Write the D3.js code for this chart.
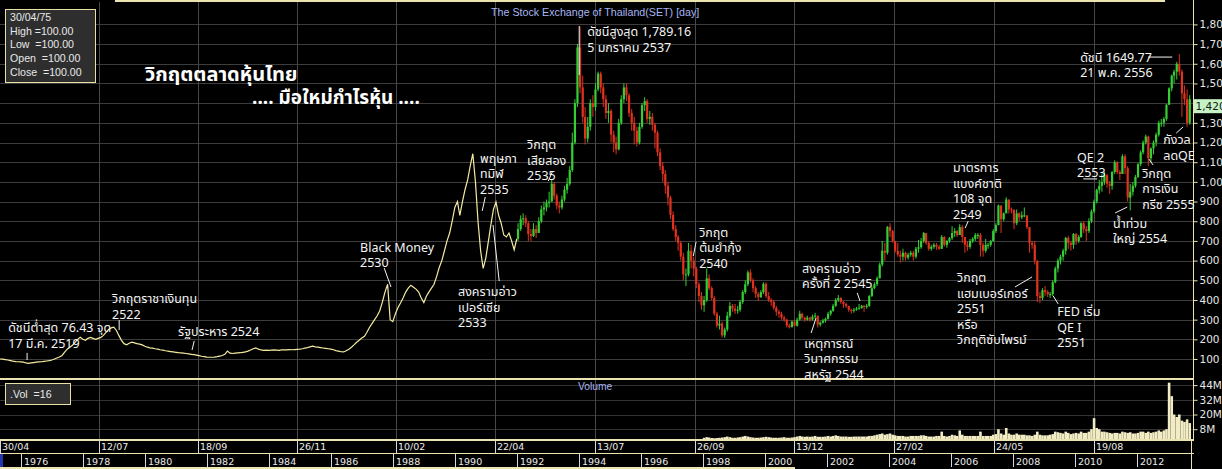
<!DOCTYPE html>
<html>
<head>
<meta charset="utf-8">
<script src="https://cdnjs.cloudflare.com/ajax/libs/d3/7.8.5/d3.min.js"></script>
<style>
  body { margin: 0; background: #000; overflow: hidden; }
</style>
</head>
<body>
<script>
// ---------- data ----------

// monthly close, yellow line part, Apr 1975 .. Dec 1991
let lineStart = "1975-04";
let lineClose = [
  100, 99, 97, 95, 92, 89, 87, 86, 85,                           // 1975
  84, 80, 78, 80, 82, 84, 85, 86, 88, 90, 92, 95,                // 1976
  100, 105, 110, 118, 135, 150, 160, 170, 185, 200, 210, 200,    // 1977
  195, 205, 210, 205, 200, 205, 210, 220, 235, 250, 258, 262,    // 1978
  245, 220, 195, 178, 172, 180, 186, 182, 178, 176, 172, 165,    // 1979
  160, 157, 155, 152, 150, 147, 145, 142, 140, 138, 136, 134,    // 1980
  132, 131, 130, 128, 126, 124, 122, 120, 117, 114, 112, 110,    // 1981
  109, 109, 110, 112, 115, 118, 124, 140, 130, 128, 130, 131,    // 1982
  132, 134, 136, 140, 146, 152, 156, 150, 146, 144, 145, 144,    // 1983
  145, 146, 145, 144, 146, 147, 146, 148, 147, 148, 149, 150,    // 1984
  152, 155, 158, 162, 165, 162, 160, 158, 156, 154, 152, 150,    // 1985
  147, 143, 140, 137, 136, 142, 150, 160, 172, 185, 195, 207,    // 1986
  215, 235, 260, 280, 300, 320, 345, 390, 440, 480, 300, 290,    // 1987
  330, 360, 385, 410, 440, 460, 475, 465, 455, 440, 410, 387,    // 1988
  420, 440, 460, 480, 520, 565, 600, 650, 700, 740, 800, 870,    // 1989
  900, 830, 900, 960, 1010, 1080, 1143, 1000, 800, 650, 560, 613, // 1990
  700, 780, 860, 897, 830, 790, 730, 720, 740, 700, 655, 711     // 1991
];

// monthly candles Jan 1992 .. Sep 2013 (open = previous close)
let candleStart = "1992-01";
let candleClose = [
  760, 810, 815, 790, 735, 725, 760, 740, 800, 860, 870, 893,                 // 1992
  900, 990, 930, 880, 870, 910, 960, 990, 1060, 1200, 1400, 1683,             // 1993
  1480, 1330, 1220, 1280, 1400, 1380, 1470, 1550, 1480, 1420, 1350, 1360,     // 1994
  1240, 1200, 1165, 1300, 1420, 1480, 1440, 1350, 1300, 1260, 1200, 1280,     // 1995
  1390, 1410, 1320, 1330, 1290, 1250, 1150, 1080, 1040, 980, 920, 832,        // 1996
  760, 720, 690, 620, 530, 530, 650, 600, 560, 480, 420, 373,                 // 1997
  400, 510, 460, 410, 330, 270, 280, 220, 250, 320, 370, 356,                 // 1998
  345, 350, 390, 440, 480, 540, 500, 460, 430, 415, 440, 482,                 // 1999
  420, 400, 390, 360, 340, 330, 310, 300, 270, 262, 290, 269,                 // 2000
  300, 330, 310, 300, 310, 300, 315, 320, 275, 285, 295, 304,                 // 2001
  330, 345, 370, 400, 410, 390, 380, 370, 350, 345, 350, 356,                 // 2002
  360, 370, 365, 370, 420, 460, 480, 510, 580, 650, 640, 772,                 // 2003
  750, 700, 650, 630, 620, 640, 615, 630, 640, 620, 660, 668,                 // 2004
  700, 740, 690, 660, 670, 680, 670, 660, 720, 680, 700, 714,                 // 2005
  740, 750, 730, 770, 720, 680, 670, 700, 710, 730, 730, 680,                 // 2006
  650, 680, 680, 700, 750, 780, 880, 810, 840, 910, 860, 858,                 // 2007
  790, 840, 820, 830, 830, 770, 690, 680, 600, 420, 410, 450,                 // 2008
  440, 430, 430, 490, 560, 600, 620, 650, 715, 690, 680, 735,                 // 2009
  700, 720, 790, 760, 750, 800, 850, 900, 960, 980, 1000, 1033,               // 2010
  990, 980, 1050, 1100, 1050, 1040, 1130, 1070, 920, 950, 980, 1025,          // 2011
  1090, 1150, 1200, 1230, 1120, 1170, 1200, 1240, 1300, 1300, 1320, 1392,     // 2012
  1475, 1540, 1560, 1600, 1560, 1450, 1420, 1300, 1420                        // 2013
];
let candleHigh = [
  790, 830, 840, 830, 800, 760, 790, 780, 820, 880, 900, 910,
  950, 1010, 1000, 940, 900, 930, 980, 1020, 1080, 1250, 1420, 1700,
  1789, 1540, 1380, 1330, 1420, 1440, 1500, 1560, 1560, 1500, 1440, 1400,
  1370, 1260, 1230, 1320, 1440, 1500, 1500, 1450, 1370, 1330, 1280, 1300,
  1400, 1430, 1420, 1360, 1350, 1300, 1260, 1170, 1100, 1060, 1000, 930,
  850, 780, 730, 700, 640, 560, 690, 680, 620, 570, 490, 440,
  420, 560, 530, 470, 420, 340, 320, 290, 260, 340, 390, 380,
  380, 370, 400, 450, 500, 550, 555, 510, 470, 440, 450, 490,
  490, 440, 410, 400, 370, 350, 340, 320, 305, 280, 295, 300,
  310, 345, 335, 315, 320, 315, 325, 335, 320, 290, 305, 310,
  340, 350, 380, 410, 425, 415, 395, 385, 370, 355, 360, 365,
  380, 375, 375, 380, 425, 470, 490, 520, 590, 700, 690, 775,
  790, 755, 700, 690, 650, 660, 645, 640, 650, 650, 670, 705,
  715, 745, 740, 700, 680, 690, 690, 680, 730, 725, 705, 720,
  775, 765, 755, 785, 780, 720, 700, 710, 720, 740, 740, 740,
  690, 710, 690, 705, 760, 790, 885, 880, 845, 922, 910, 870,
  860, 860, 845, 850, 870, 830, 770, 700, 700, 600, 440, 460,
  470, 450, 440, 500, 570, 610, 630, 660, 720, 725, 700, 740,
  740, 730, 795, 800, 775, 815, 860, 910, 965, 1010, 1040, 1050,
  1040, 1005, 1055, 1110, 1105, 1060, 1140, 1140, 1080, 990, 1000, 1035,
  1095, 1160, 1210, 1240, 1235, 1175, 1210, 1250, 1310, 1320, 1330, 1395,
  1480, 1545, 1570, 1610, 1650, 1570, 1490, 1470, 1440
];
let candleLow = [
  700, 750, 780, 770, 700, 700, 720, 715, 740, 790, 830, 850,
  870, 900, 910, 860, 840, 860, 900, 940, 980, 1050, 1190, 1380,
  1450, 1300, 1190, 1200, 1260, 1330, 1360, 1460, 1450, 1380, 1320, 1300,
  1200, 1150, 1140, 1160, 1290, 1400, 1410, 1330, 1260, 1190, 1180, 1190,
  1270, 1360, 1300, 1290, 1260, 1170, 1130, 1060, 1000, 940, 880, 810,
  750, 700, 650, 600, 500, 470, 520, 560, 520, 460, 390, 350,
  340, 390, 450, 400, 320, 260, 250, 210, 207, 240, 310, 340,
  330, 330, 340, 380, 430, 470, 490, 440, 410, 395, 410, 430,
  410, 390, 370, 350, 320, 310, 300, 290, 260, 255, 260, 265,
  265, 295, 300, 290, 295, 290, 295, 305, 260, 265, 280, 285,
  300, 320, 340, 365, 390, 380, 360, 360, 340, 330, 335, 345,
  350, 355, 340, 355, 365, 415, 455, 470, 510, 570, 600, 630,
  720, 690, 640, 620, 590, 600, 600, 605, 620, 600, 610, 640,
  660, 690, 680, 650, 650, 660, 655, 655, 660, 670, 665, 690,
  705, 720, 720, 730, 690, 640, 650, 660, 690, 700, 710, 620,
  620, 640, 660, 670, 695, 740, 780, 740, 800, 840, 840, 840,
  760, 780, 800, 810, 820, 760, 640, 660, 580, 390, 384, 400,
  420, 415, 410, 420, 485, 540, 580, 600, 630, 660, 650, 660,
  680, 690, 715, 740, 700, 740, 790, 840, 890, 940, 950, 985,
  970, 940, 960, 1040, 1040, 1010, 1040, 1040, 900, 855, 930, 970,
  1020, 1080, 1140, 1190, 1080, 1100, 1140, 1180, 1230, 1280, 1280, 1310,
  1390, 1460, 1500, 1520, 1540, 1330, 1390, 1280, 1290
];

// volume (millions), Jan 1998 .. Sep 2013
let volStart = "1998-01";
let volume = [
  1.0, 1.5, 1.2, 0.8, 0.6, 0.8, 1.0, 1.2, 1.5, 2.0, 1.5, 1.0,
  1.0, 1.2, 1.5, 2.0, 2.5, 2.0, 1.5, 1.2, 1.0, 1.0, 1.2, 1.5,
  1.8, 1.5, 1.2, 1.0, 1.0, 1.0, 1.2, 1.5, 1.0, 1.0, 1.2, 1.5,
  2.0, 2.5, 2.0, 1.8, 2.0, 1.8, 2.0, 2.5, 1.8, 1.8, 1.8, 2.0,
  2.5, 2.0, 2.5, 3.0, 2.5, 2.0, 2.0, 2.0, 1.8, 1.8, 2.0, 2.0,
  2.0, 2.0, 2.0, 2.0, 2.5, 2.5, 3.0, 3.5, 4.0, 4.5, 3.5, 4.0,
  4.5, 3.5, 3.0, 2.5, 2.5, 2.5, 2.0, 2.0, 2.5, 2.5, 2.5, 2.5,
  3.0, 3.0, 2.5, 2.0, 2.0, 2.0, 2.5, 2.5, 6.0, 2.5, 2.0, 2.5,
  3.5, 3.0, 2.5, 7.0, 3.5, 2.5, 2.5, 2.5, 2.5, 2.5, 2.5, 6.0,
  2.5, 2.5, 2.5, 2.5, 3.5, 4.0, 8.0, 4.5, 3.5, 9.0, 4.5, 3.5,
  3.5, 4.5, 3.5, 3.5, 3.5, 3.0, 3.0, 2.5, 3.5, 6.0, 3.5, 3.0,
  3.0, 3.0, 3.5, 4.0, 6.0, 5.5, 5.0, 4.5, 6.0, 5.0, 4.0, 4.5,
  5.0, 4.5, 6.0, 5.0, 5.0, 6.0, 8.0, 17.0, 9.0, 8.0, 6.0, 6.0,
  5.5, 5.0, 4.5, 5.0, 5.0, 4.5, 6.0, 5.5, 5.0, 5.5, 4.5, 4.5,
  5.0, 6.0, 6.0, 5.0, 6.0, 5.0, 5.5, 6.0, 7.0, 6.0, 7.0, 8.0,
  46.0, 35.0, 20.0, 18.0, 20.0, 15.0, 14.0, 16.0, 13.0
];

// axis ticks
let priceTicks = [100, 200, 300, 400, 500, 600, 700, 800, 900, 1000, 1100, 1200, 1300, 1400, 1500, 1600, 1700, 1800];
let volTicks = [8, 20, 32, 44];
let dateTicks = ["1975-04-30", "1978-07-12", "1981-09-18", "1984-11-26", "1988-02-10", "1991-04-22",
                 "1994-07-13", "1997-09-26", "2000-12-13", "2004-02-27", "2007-05-24", "2010-08-19"];
let yearTicks = [1976, 1978, 1980, 1982, 1984, 1986, 1988, 1990, 1992, 1994, 1996, 1998, 2000, 2002, 2004, 2006, 2008, 2010, 2012];

// annotations, anchored at [decimal year, index value]
let notes = [
  { at: [1975.59, 258], text: ["ดัชนีต่ำสุด 76.43 จุด", "17 มี.ค. 2519"], ptr: [[1976.20, 131], [1976.20, 95]] },
  { at: [1978.94, 405], text: ["วิกฤตราชาเงินทุน", "2522"], ptr: [[1979.17, 298], [1979.17, 247]] },
  { at: [1981.07, 242], text: ["รัฐประหาร 2524"], ptr: [[1981.52, 146], [1981.59, 192]] },
  { at: [1986.94, 669], text: ["Black Money", "2530"], ptr: [[1987.72, 562], [1987.94, 466]] },
  { at: [1990.81, 1121], text: ["พฤษภา", "ทมิฬ", "2535"], ptr: [[1990.98, 923], [1990.88, 852]] },
  { at: [1990.10, 442], text: ["สงครามอ่าว", "เปอร์เซีย", "2533"], ptr: [[1991.43, 496], [1991.23, 781]] },
  { at: [1992.33, 1188], text: ["วิกฤต", "เสียสอง", "2535"], ptr: [[1993.01, 1004], [1993.14, 1050]] },
  { at: [1994.27, 1762], text: ["ดัชนีสูงสุด 1,789.16", "5 มกราคม 2537"], ptr: [[1994.01, 1792], [1994.01, 1543]] },
  { at: [1997.88, 745], text: ["วิกฤต", "ต้มยำกุ้ง", "2540"], ptr: [[1997.78, 695], [1997.69, 623]] },
  { at: [2001.20, 562], text: ["สงครามอ่าว", "ครั้งที่ 2 2545"], ptr: [[2002.98, 435], [2003.07, 395]] },
  { at: [2001.27, 181], text: ["เหตุการณ์", "วินาศกรรม", "สหรัฐ 2544"], ptr: [[2001.65, 308], [2001.49, 232]] },
  { at: [2006.07, 1071], text: ["มาตรการ", "แบงค์ชาติ", "108 จุด", "2549"], ptr: [[2006.46, 765], [2006.56, 801]] },
  { at: [2006.20, 512], text: ["วิกฤต", "แฮมเบอร์เกอร์", "2551", "หรือ", "วิกฤติซับไพรม์"], ptr: [[2008.07, 466], [2008.62, 517]] },
  { at: [2009.43, 339], text: ["FED เริ่ม", "QE I", "2551"], ptr: [[2009.30, 420], [2009.46, 380]] },
  { at: [2010.07, 1126], text: ["QE 2", "2553"], ptr: [[2010.27, 1015], [2010.72, 1015]] },
  { at: [2011.23, 791], text: ["น้ำท่วม", "ใหญ่ 2554"], ptr: [[2011.30, 842], [2011.69, 872]] },
  { at: [2012.17, 1045], text: ["วิกฤต", "การเงิน", "กรีซ 2555"], ptr: [[2012.52, 1086], [2012.39, 1116]] },
  { at: [2012.85, 1213], text: ["กังวล", "ลดQE"], ptr: [[2013.27, 1248], [2013.49, 1279]] },
  { at: [2010.17, 1634], text: ["ดัชนี 1649.77", "21 พ.ค. 2556"], ptr: [[2012.36, 1634], [2013.14, 1634]] }
];

let infoLines = ["30/04/75", "High =100.00", "Low  =100.00", "Open  =100.00", "Close  =100.00"];

// ---------- layout ----------
let width = 1222;
let height = 469;
let axisX = 1193.5;
let volTop = 379, volBottom = 439;
let row1Top = 440, row1Bottom = 453;

let thaiFont = "'Noto Sans Thai', 'Noto Looped Thai', 'Loma', 'Garuda', 'Tlwg Typo', 'Waree', 'Norasi', Tahoma, sans-serif";
let latinFont = "'Liberation Sans', Arial, sans-serif";
let axisFont = "'DejaVu Sans', Verdana, sans-serif";
let cream = "#ece4b0";
let grid = "#3d3d3d";
let green = "#35cf35";
let red = "#e0321e";

let x = d3.scaleTime()
  .domain([new Date(1975, 3, 30), new Date(2013, 8, 30)])
  .range([0, 1191]);
let y = d3.scaleLinear().domain([0, 1800]).range([378.7, 24.4]);
let yVol = d3.scaleLinear().domain([0, 49]).range([volBottom, volTop]);

function monthEnd(start, i) {
  let p = start.split("-").map(Number);
  return new Date(p[0], p[1] + i, 0);
}
function monthMid(start, i) {
  let p = start.split("-").map(Number);
  return new Date(p[0], p[1] - 1 + i, 15);
}
function fromYear(t) {
  let yr = Math.floor(t);
  let a = new Date(yr, 0, 1), b = new Date(yr + 1, 0, 1);
  return new Date(+a + (t - yr) * (b - a));
}

let lastClose = candleClose[candleClose.length - 1];

let svg = d3.select("body").append("svg")
  .attr("width", width)
  .attr("height", height)
  .style("display", "block");

svg.append("rect").attr("width", width).attr("height", height).attr("fill", "#000");

// ---------- grid ----------
let gridG = svg.append("g").attr("shape-rendering", "crispEdges");
gridG.selectAll(".hg").data(priceTicks).join("line")
  .attr("x1", 0).attr("x2", axisX)
  .attr("y1", d => Math.round(y(d)) + 0.5).attr("y2", d => Math.round(y(d)) + 0.5)
  .attr("stroke", grid);
gridG.selectAll(".vg").data(volTicks).join("line")
  .attr("x1", 0).attr("x2", axisX)
  .attr("y1", d => Math.round(yVol(d)) + 0.5).attr("y2", d => Math.round(yVol(d)) + 0.5)
  .attr("stroke", "#333");
gridG.selectAll(".dg").data(dateTicks.slice(1)).join("line")
  .attr("x1", d => Math.round(x(new Date(d))) + 0.5).attr("x2", d => Math.round(x(new Date(d))) + 0.5)
  .attr("y1", 2).attr("y2", volBottom)
  .attr("stroke", "#474747");

// ---------- volume ----------
let volData = volume.map((v, i) => ({ date: monthMid(volStart, i), v: v }));
svg.append("g").selectAll("rect").data(volData).join("rect")
  .attr("x", d => x(d.date) - 1.3)
  .attr("width", 2.6)
  .attr("y", d => yVol(d.v))
  .attr("height", d => volBottom - yVol(d.v))
  .attr("fill", "#f2ecc4");

// ---------- yellow line (before 1992) ----------
let lineData = lineClose.map((v, i) => ({ date: monthEnd(lineStart, i), v: v }));
svg.append("path")
  .datum(lineData)
  .attr("fill", "none")
  .attr("stroke", "#f3eba0")
  .attr("stroke-width", 1.2)
  .attr("d", d3.line().x(d => x(d.date)).y(d => y(d.v)));

// ---------- candles ----------
let candles = candleClose.map((c, i) => ({
  date: monthMid(candleStart, i),
  open: i === 0 ? lineClose[lineClose.length - 1] : candleClose[i - 1],
  close: c,
  high: candleHigh[i],
  low: candleLow[i]
}));
let candleG = svg.append("g");
candleG.selectAll("line").data(candles).join("line")
  .attr("x1", d => x(d.date)).attr("x2", d => x(d.date))
  .attr("y1", d => y(d.high)).attr("y2", d => y(d.low))
  .attr("stroke", d => d.close >= d.open ? green : red)
  .attr("stroke-width", 1);
candleG.selectAll("rect").data(candles).join("rect")
  .attr("x", d => x(d.date) - 1.1)
  .attr("width", 2.2)
  .attr("y", d => y(Math.max(d.open, d.close)))
  .attr("height", d => Math.max(1, Math.abs(y(d.open) - y(d.close))))
  .attr("fill", d => d.close >= d.open ? green : red);

// ---------- frames ----------
let frame = svg.append("g").attr("shape-rendering", "crispEdges");
frame.append("rect").attr("x", 115).attr("y", 0).attr("width", 1050).attr("height", 2).attr("fill", cream);
frame.append("rect").attr("x", 0).attr("y", 378).attr("width", axisX).attr("height", 1.5).attr("fill", cream);
frame.append("rect").attr("x", 0).attr("y", volBottom).attr("width", axisX).attr("height", 1.5).attr("fill", cream);
frame.append("line").attr("x1", axisX).attr("x2", axisX).attr("y1", 0).attr("y2", volBottom + 1)
  .attr("stroke", cream);

// ---------- right axes ----------
// the 1,400 label sits under the last-price tag, so it is left blank
let priceAxis = svg.append("g")
  .attr("transform", "translate(" + axisX + ",0)")
  .call(d3.axisRight(y).tickValues(priceTicks).tickSize(4).tickPadding(2)
    .tickFormat(d => Math.abs(d - lastClose) < 50 ? "" : d3.format(",")(d)));
let volAxis = svg.append("g")
  .attr("transform", "translate(" + axisX + ",0)")
  .call(d3.axisRight(yVol).tickValues(volTicks).tickSize(4).tickPadding(2).tickFormat(d => d + "M"));
[priceAxis, volAxis].forEach(function(g) {
  g.select(".domain").remove();
  g.selectAll(".tick line").attr("stroke", cream);
  g.selectAll(".tick text")
    .attr("fill", "#e6e6e6")
    .style("font-family", axisFont)
    .style("font-size", "10.5px");
});

// last price tag
svg.append("rect")
  .attr("x", axisX + 0.5).attr("y", y(lastClose))
  .attr("width", 30).attr("height", 14)
  .attr("fill", "#c6f2c6");
svg.append("text")
  .attr("x", axisX + 2).attr("y", y(lastClose) + 11)
  .attr("fill", "#102010")
  .style("font-family", axisFont)
  .style("font-size", "10.5px")
  .text(d3.format(",")(lastClose));

// ---------- date rows ----------
let rows = svg.append("g").attr("shape-rendering", "crispEdges");
rows.append("rect").attr("x", 0).attr("y", row1Bottom).attr("width", axisX).attr("height", 1).attr("fill", cream);
rows.append("rect").attr("x", 0).attr("y", 467).attr("width", 795).attr("height", 2).attr("fill", cream);
rows.append("rect").attr("x", 0).attr("y", row1Bottom + 1).attr("width", 3).attr("height", 13).attr("fill", "#2236b0");
rows.append("line").attr("x1", 1191.5).attr("x2", 1191.5).attr("y1", row1Top).attr("y2", 469).attr("stroke", cream);

rows.selectAll(".dt").data(dateTicks).join("line")
  .attr("x1", d => Math.round(x(new Date(d))) + 0.5).attr("x2", d => Math.round(x(new Date(d))) + 0.5)
  .attr("y1", row1Top).attr("y2", row1Bottom)
  .attr("stroke", "#d8d8d8");
rows.selectAll(".dl").data(dateTicks).join("text")
  .attr("x", d => Math.round(x(new Date(d))) + 2)
  .attr("y", 449.5)
  .attr("fill", "#ececec")
  .style("font-family", axisFont)
  .style("font-size", "9.5px")
  .text(d => d3.timeFormat("%d/%m")(new Date(d)));

rows.selectAll(".yt").data(yearTicks).join("line")
  .attr("x1", d => Math.round(x(new Date(d, 0, 1))) + 0.5).attr("x2", d => Math.round(x(new Date(d, 0, 1))) + 0.5)
  .attr("y1", row1Bottom).attr("y2", 467)
  .attr("stroke", "#d8d8d8");
rows.selectAll(".yl").data(yearTicks).join("text")
  .attr("x", d => Math.round(x(new Date(d, 0, 1))) + 3)
  .attr("y", 464.5)
  .attr("fill", "#ececec")
  .style("font-family", axisFont)
  .style("font-size", "9.5px")
  .text(d => d);

// ---------- titles ----------
svg.append("text")
  .attr("x", 491).attr("y", 16)
  .attr("fill", "#a9b5f2")
  .style("font-family", latinFont)
  .style("font-size", "10.7px")
  .text("The Stock Exchange of Thailand(SET) [day]");
svg.append("text")
  .attr("x", 578).attr("y", 390)
  .attr("fill", "#a9b5f2")
  .style("font-family", latinFont)
  .style("font-size", "10.3px")
  .text("Volume");

svg.append("text")
  .attr("x", 145).attr("y", 81)
  .attr("fill", "#ffffff")
  .style("font-family", thaiFont)
  .style("font-size", "20px")
  .style("font-weight", "bold")
  .text("วิกฤตตลาดหุ้นไทย");
svg.append("text")
  .attr("x", 252).attr("y", 104)
  .attr("fill", "#ffffff")
  .style("font-family", thaiFont)
  .style("font-size", "19px")
  .style("font-weight", "bold")
  .text(".... มือใหม่กำไรหุ้น ....");

// ---------- annotations ----------
let noteG = svg.append("g");
notes.forEach(function(n) {
  let px = x(fromYear(n.at[0]));
  let py = y(n.at[1]);
  noteG.append("text")
    .attr("x", px).attr("y", py + 4.5)
    .attr("fill", "#f4f4f4")
    .style("font-family", thaiFont)
    .style("font-size", "12.5px")
    .selectAll("tspan").data(n.text).join("tspan")
    .attr("x", px)
    .attr("dy", (d, i) => i === 0 ? 0 : 15.5)
    .text(d => d);
  noteG.append("line")
    .attr("x1", x(fromYear(n.ptr[0][0]))).attr("y1", y(n.ptr[0][1]))
    .attr("x2", x(fromYear(n.ptr[1][0]))).attr("y2", y(n.ptr[1][1]))
    .attr("stroke", "#f4f4f4")
    .attr("stroke-width", 1);
});

// ---------- info boxes ----------
let info = svg.append("g");
info.append("rect")
  .attr("x", 5.5).attr("y", 9.5).attr("width", 90).attr("height", 73)
  .attr("fill", "#2e2e2e").attr("stroke", "#e8e0a4");
info.selectAll(".il").data(infoLines).join("text")
  .attr("x", 10)
  .attr("y", (d, i) => 21 + i * 13.7)
  .attr("fill", "#e8e8e8")
  .style("font-family", latinFont)
  .style("font-size", "10.6px")
  .style("white-space", "pre")
  .text(d => d);

info.append("rect")
  .attr("x", 5.5).attr("y", 383.5).attr("width", 65).attr("height", 21)
  .attr("fill", "#2e2e2e").attr("stroke", "#e8e0a4");
info.append("text")
  .attr("x", 10).attr("y", 397.5)
  .attr("fill", "#e8e8e8")
  .style("font-family", latinFont)
  .style("font-size", "10.6px")
  .style("white-space", "pre")
  .text(".Vol  =16");
</script>
</body>
</html>
